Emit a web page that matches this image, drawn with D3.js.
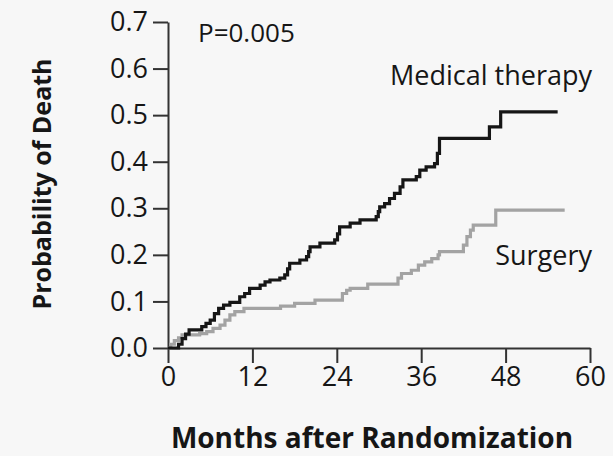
<!DOCTYPE html>
<html>
<head>
<meta charset="utf-8">
<script src="https://cdn.jsdelivr.net/npm/d3@7"></script>
<style>
  html, body { margin: 0; padding: 0; background: #f7f7f7; }
  svg { display: block; }
  text { font-family: "Open Sans", sans-serif; fill: #161616; }
</style>
</head>
<body>
<svg id="chart" width="613" height="456"></svg>
<script>
// Kaplan-Meier style step curves: [month, cumulative probability of death]
const medicalTherapy = [
  [0, 0], [1.5, 0.008], [2.0, 0.02], [2.5, 0.03], [3.0, 0.039], [4.8, 0.046],
  [5.4, 0.053], [6.0, 0.06], [6.6, 0.074], [7.2, 0.085], [7.9, 0.092],
  [8.8, 0.098], [10.2, 0.11], [10.9, 0.117], [11.6, 0.128], [13.1, 0.135],
  [13.8, 0.142], [14.5, 0.146], [15.9, 0.15], [16.6, 0.157], [17.0, 0.17],
  [17.3, 0.182], [18.75, 0.189], [19.7, 0.196], [20.0, 0.207], [20.2, 0.217],
  [21.6, 0.225], [23.7, 0.232], [24.1, 0.245], [24.4, 0.26], [25.9, 0.268],
  [27.3, 0.275], [29.6, 0.282], [29.9, 0.293], [30.1, 0.303], [30.8, 0.31],
  [31.5, 0.321], [32.2, 0.332], [33.0, 0.346], [33.4, 0.361], [35.3, 0.368],
  [35.8, 0.382], [36.7, 0.389], [37.9, 0.396], [38.3, 0.418], [38.6, 0.45],
  [45.7, 0.475], [47.3, 0.507], [55.4, 0.507]
];
const surgery = [
  [0, 0], [0.4, 0.008], [0.9, 0.016], [1.5, 0.022], [2.0, 0.028], [4.5, 0.031],
  [5.5, 0.035], [6.4, 0.042], [7.4, 0.049], [8.1, 0.06], [8.8, 0.071],
  [9.5, 0.078], [10.8, 0.085], [16.0, 0.09], [18.0, 0.096], [20.9, 0.103],
  [24.8, 0.117], [25.4, 0.124], [25.9, 0.128], [28.4, 0.137], [32.7, 0.15],
  [33.2, 0.16], [34.6, 0.167], [35.6, 0.178], [36.5, 0.185], [37.5, 0.192],
  [38.4, 0.2], [38.6, 0.207], [42.0, 0.221], [42.5, 0.239], [43.0, 0.253],
  [43.4, 0.264], [46.6, 0.296], [56.4, 0.296]
];
const xTicks = [0, 12, 24, 36, 48, 60];
const yTicks = [0, 0.1, 0.2, 0.3, 0.4, 0.5, 0.6, 0.7];

const svg = d3.select("#chart");

const x = d3.scaleLinear().domain([0, 60]).range([168, 590]);
const y = d3.scaleLinear().domain([0, 0.7]).range([348, 22]);

// axes
const yAxis = svg.append("g")
  .attr("transform", `translate(${x(0)},0)`)
  .call(d3.axisLeft(y).tickValues(yTicks).tickFormat(d3.format(".1f"))
    .tickSize(15).tickSizeOuter(0).tickPadding(5));
const xAxis = svg.append("g")
  .attr("transform", `translate(0,${y(0)})`)
  .call(d3.axisBottom(x).tickValues(xTicks).tickSize(15).tickSizeOuter(0).tickPadding(4));

[yAxis, xAxis].forEach(g => {
  g.selectAll("path, line").attr("stroke", "#333").attr("stroke-width", 2);
  g.selectAll("text")
    .attr("font-family", "Open Sans, sans-serif")
    .attr("font-size", 27)
    .attr("fill", "#161616");
});

// curves
const line = d3.line()
  .curve(d3.curveStepAfter)
  .x(d => x(d[0]))
  .y(d => y(d[1]));

svg.append("path")
  .datum(surgery)
  .attr("d", line)
  .attr("fill", "none")
  .attr("stroke", "#a3a3a3")
  .attr("stroke-width", 3.2);

svg.append("path")
  .datum(medicalTherapy)
  .attr("d", line)
  .attr("fill", "none")
  .attr("stroke", "#161616")
  .attr("stroke-width", 3.2);

// labels
svg.append("text")
  .attr("x", 198).attr("y", 42)
  .attr("font-size", 26)
  .text("P=0.005");

svg.append("text")
  .attr("x", 592).attr("y", 85)
  .attr("text-anchor", "end")
  .attr("font-size", 27)
  .text("Medical therapy");

svg.append("text")
  .attr("x", 592).attr("y", 265)
  .attr("text-anchor", "end")
  .attr("font-size", 27)
  .text("Surgery");

// axis titles
svg.append("text")
  .attr("transform", "translate(51,184) rotate(-90)")
  .attr("text-anchor", "middle")
  .attr("font-size", 25)
  .attr("font-weight", "bold")
  .text("Probability of Death");

svg.append("text")
  .attr("x", 372).attr("y", 448)
  .attr("text-anchor", "middle")
  .attr("font-size", 28)
  .attr("font-weight", "bold")
  .text("Months after Randomization");
</script>
</body>
</html>
